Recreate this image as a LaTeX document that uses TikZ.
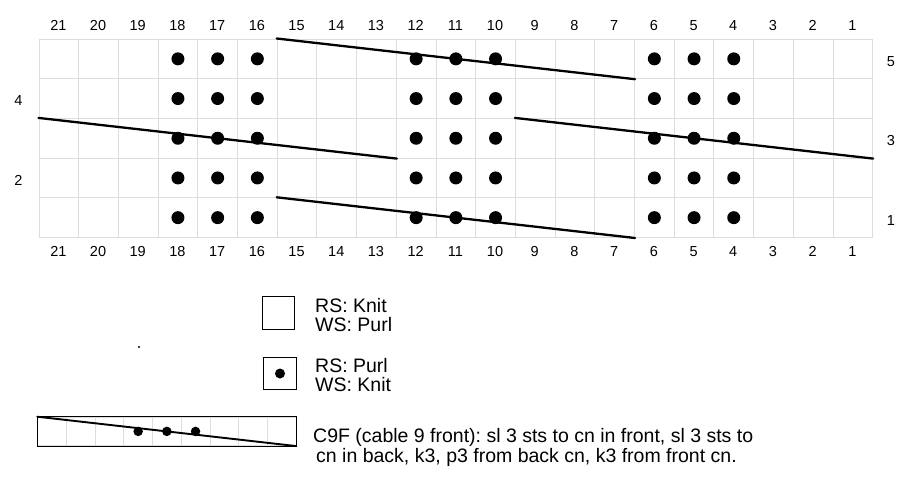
\documentclass[tikz,border=0pt]{standalone}
\usepackage{fontspec}
\setmainfont{Liberation Sans}
\usetikzlibrary{positioning}
\definecolor{gridgray}{RGB}{221,221,221}
\frenchspacing

\begin{document}
\begin{tikzpicture}[x=1pt, y=-1pt,
  % Node Styles
  cell/.style={rectangle, draw=gridgray, line width=1pt, minimum size=39.7pt, inner sep=0pt, anchor=north west},
  purl/.style={circle, fill=black, minimum size=13pt, inner sep=0pt},
  numlabel/.style={font=\fontsize{14.5}{16}\selectfont, inner sep=0pt},
  keybox/.style={rectangle, draw=black, line width=0.8pt, minimum size=32.5pt, inner sep=0pt},
  keytext/.style={font=\fontsize{19.5}{19.5}\selectfont, align=left, anchor=west, inner sep=0pt},
  % Line Styles
  cableline/.style={line width=2.3pt, line cap=round},
]
\useasboundingbox (0,0) rectangle (912,498);

% Chart grid: column 21 on the left, row 1 at the bottom
\foreach \col in {1,...,21}{
  \foreach \row in {1,...,5}{
    \node[cell] (c\col-\row) at ({38.5+(21-\col)*39.7},{38.5+(5-\row)*39.7}) {};
  }
  \node[numlabel] (top\col) at ({58.35+(21-\col)*39.7},25.7) {\col};
  \node[numlabel] (bot\col) at ({58.35+(21-\col)*39.7},251.7) {\col};
}

% Row numbers
\node[numlabel] (row4) at (18.3,100.5) {4};
\node[numlabel] (row2) at (18.3,180) {2};
\node[numlabel] (row5) at (891,61.5) {5};
\node[numlabel] (row3) at (891,141) {3};
\node[numlabel] (row1) at (891,220.5) {1};

% Cables
\draw[cableline] (c15-5.north west) -- (c7-5.south east);
\draw[cableline] (c21-3.north west) -- (c13-3.south east);
\draw[cableline] (c9-3.north west) -- (c1-3.south east);
\draw[cableline] (c15-1.north west) -- (c7-1.south east);

% Purl stitches
\foreach \col in {4,5,6,10,11,12,16,17,18}
  \foreach \row in {1,...,5}
    \node[purl] (p\col-\row) at (c\col-\row) {};

% Key
\node[keybox] (knitkey) at (278.6,313) {};
\node[keytext] (knittext) at (315,315) {RS: Knit\\WS: Purl};

\node[keybox] (purlkey) at (280,373.5) {};
\node[purl, minimum size=10pt] (purldot) at (purlkey) {};
\node[keytext] (purltext) at (315,375) {RS: Purl\\WS: Knit};

\node[circle, fill=black, minimum size=2.4pt, inner sep=0pt] (speck) at (139,347) {};

\foreach \i in {0,...,8}
  \node[cell, minimum width=28.7pt, minimum height=28.6pt, line width=0.8pt] (k\i) at ({37.3+\i*28.7},416.7) {};
\draw[line width=1pt] (k0.north west) rectangle (k8.south east);
\draw[cableline, line width=1.9pt] (k0.north west) -- (k8.south east);
\foreach \i in {3,4,5}
  \node[purl, minimum size=9.5pt] (kp\i) at (k\i) {};
\node[keytext] (cabletext) at (313,447.5) {C9F (cable 9 front): sl 3 sts to cn in front, sl 3 sts to\\\hspace*{3pt}cn in back, k3, p3 from back cn, k3 from front cn.};

\end{tikzpicture}
\end{document}
